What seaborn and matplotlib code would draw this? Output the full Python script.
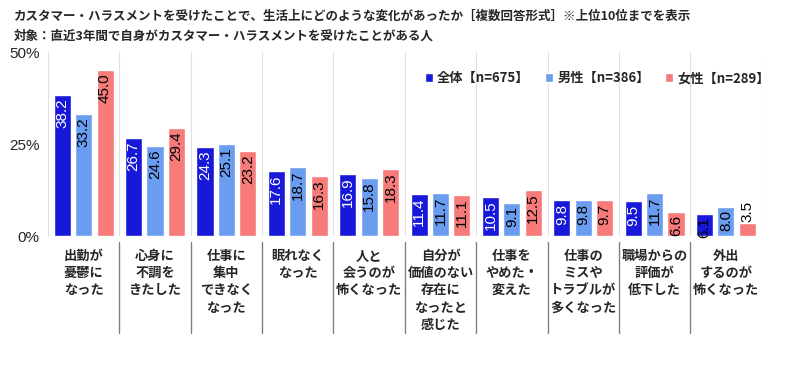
import matplotlib
matplotlib.use("Agg")
import matplotlib.pyplot as plt
import matplotlib.transforms as mtransforms
import seaborn as sns
import pandas as pd

categories = [
    "出勤が\n憂鬱に\nなった",
    "心身に\n不調を\nきたした",
    "仕事に\n集中\nできなく\nなった",
    "眠れなく\nなった",
    "人と\n会うのが\n怖くなった",
    "自分が\n価値のない\n存在に\nなったと\n感じた",
    "仕事を\nやめた・\n変えた",
    "仕事の\nミスや\nトラブルが\n多くなった",
    "職場からの\n評価が\n低下した",
    "外出\nするのが\n怖くなった",
]
groups = ["全体【n=675】", "男性【n=386】", "女性【n=289】"]
total = [38.2, 26.7, 24.3, 17.6, 16.9, 11.4, 10.5, 9.8, 9.5, 6.1]
male = [33.2, 24.6, 25.1, 18.7, 15.8, 11.7, 9.1, 9.8, 11.7, 8.0]
female = [45.0, 29.4, 23.2, 16.3, 18.3, 11.1, 12.5, 9.7, 6.6, 3.5]
colors = ["#1818d8", "#6a9cf0", "#f77b7b"]

sns.set_style("white")
plt.rcParams['font.family'] = ['Noto Sans CJK JP', 'DejaVu Sans']
num_font = ['Liberation Sans', 'DejaVu Sans']

rows = []
for g, vals in zip(groups, [total, male, female]):
    for c, v in zip(categories, vals):
        rows.append({"cat": c, "group": g, "value": v})
df = pd.DataFrame(rows)

fig = plt.figure(figsize=(8, 3.69), dpi=100)
ax = fig.add_axes([0.06, 0.36, 0.892, 0.499])

sns.barplot(data=df, x="cat", y="value", hue="group", order=categories,
            hue_order=groups, palette=colors, width=0.9, gap=0.2,
            saturation=1, ax=ax)

# value labels
for i, cont in enumerate(ax.containers):
    for bar in cont:
        v = bar.get_height()
        xc = bar.get_x() + bar.get_width() / 2
        if v > 5:
            col = "white" if (i == 0 and v >= 7) else "black"
            ax.text(xc, v - 0.9, f"{v:.1f}", rotation=90, ha="center", va="top",
                    fontsize=11, color=col, family=num_font)
        else:
            ax.text(xc, v + 0.4, f"{v:.1f}", rotation=90, ha="center", va="bottom",
                    fontsize=11, color="black", family=num_font)

ax.set_ylim(0, 50)
ax.set_xlim(-0.5, len(categories) - 0.5)
ax.set_yticks([0, 25, 50])
ax.set_yticklabels(["0%", "25%", "50%"], fontsize=11, family=num_font)
ax.set_xticks(range(len(categories)))
ax.set_xticklabels(categories, fontsize=9.5, fontweight="bold", linespacing=1.3,
                   va="top")
ax.tick_params(axis="both", length=0)
ax.tick_params(axis="x", pad=9)
ax.tick_params(axis="y", pad=6)
ax.set_xlabel("")
ax.set_ylabel("")
for s in ax.spines.values():
    s.set_visible(False)

# light grid at group boundaries, dark separators below axis
trans = mtransforms.blended_transform_factory(ax.transData, ax.transAxes)
for k in range(len(categories) + 1):
    xb = k - 0.5
    ax.axvline(xb, color="#e0e0e0", lw=0.8, zorder=0)
    if 0 < k < len(categories):
        ax.plot([xb, xb], [-0.03, -0.525], transform=trans, color="#808080",
                lw=1.0, clip_on=False)

leg = ax.legend(loc="upper center", bbox_to_anchor=(0.77, 0.96), ncol=3,
                frameon=False, fontsize=9.5, handlelength=0.6, handleheight=0.6,
                handletextpad=0.3, columnspacing=1.2)
for t in leg.get_texts():
    t.set_fontweight("bold")

fig.text(0.017, 0.955, "カスタマー・ハラスメントを受けたことで、生活上にどのような変化があったか［複数回答形式］※上位10位までを表示",
         fontsize=9, fontweight="bold", va="center")
fig.text(0.017, 0.903, "対象：直近3年間で自身がカスタマー・ハラスメントを受けたことがある人",
         fontsize=9, fontweight="bold", va="center")

fig.savefig("out.png", dpi=100)
